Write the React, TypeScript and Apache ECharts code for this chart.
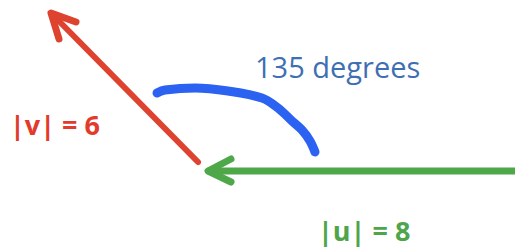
import React, { useEffect, useRef } from "react";
import * as echarts from "echarts";

// Diagram space: 515 x 248 units (y grows downward)
const redShaft: number[][] = [[198, 162], [52, 14]];
const redHead: number[][] = [[59, 39], [51, 13], [76, 22]];
const greenShaft: number[][] = [[520, 171], [209, 171]];
const greenHead: number[][] = [[231, 159], [208, 171], [231, 182]];
const angleArc: number[][] = [
  [157, 93], [165, 90], [195, 88], [228, 91], [262, 98], [278, 108],
  [292, 121], [302, 130], [310, 141], [315, 152],
];
const labels = [
  { text: "135 degrees", x: 255, y: 66, color: "#3f6fb3", bold: false, size: 29 },
  { text: "|v| = 6", x: 10, y: 124, color: "#e23a2b", bold: true, size: 27 },
  { text: "|u| = 8", x: 318, y: 230, color: "#4fa54a", bold: true, size: 27 },
];

const RED = "#de4330";
const GREEN = "#4ea84a";
const BLUE = "#2c62f2";

export default function App() {
  const ref = useRef<HTMLDivElement>(null);
  useEffect(() => {
    if (!ref.current) return;
    const chart = echarts.init(ref.current, null, { renderer: "svg" });
    const line = (data: number[][], color: string, width: number, smooth = false) => ({
      type: "line",
      data,
      symbol: "none",
      smooth: smooth ? 0.35 : false,
      lineStyle: { color, width, cap: "round", join: "round" },
      silent: true,
    });
    chart.setOption({
      animation: false,
      backgroundColor: "#ffffff",
      grid: { left: 0, right: 0, top: 0, bottom: 0 },
      xAxis: { type: "value", min: 0, max: 515, show: false },
      yAxis: { type: "value", min: 0, max: 248, inverse: true, show: false },
      series: [
        line(greenShaft, GREEN, 7),
        line(greenHead, GREEN, 7),
        line(redShaft, RED, 6),
        line(redHead, RED, 7),
        line(angleArc, BLUE, 9, true),
      ],
      graphic: labels.map((l) => ({
        type: "text",
        x: l.x,
        y: l.y,
        style: {
          text: l.text,
          fill: l.color,
          font: `${l.bold ? "bold " : ""}${l.size}px "Open Sans"`,
          verticalAlign: "middle",
          align: "left",
        },
      })),
    });
    return () => chart.dispose();
  }, []);
  return (
    <div
      ref={ref}
      style={{ position: "fixed", left: 0, top: 0, width: 515, height: 248 }}
    />
  );
}
